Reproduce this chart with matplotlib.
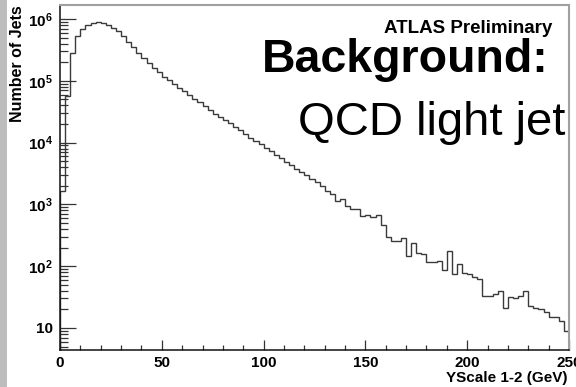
import matplotlib
matplotlib.use("Agg")
import matplotlib.pyplot as plt
import matplotlib.patches as mpatches
import numpy as np

plt.rcParams["font.family"] = ["Liberation Sans", "DejaVu Sans"]
plt.rcParams["mathtext.fontset"] = "custom"
plt.rcParams["mathtext.rm"] = "Liberation Sans"
plt.rcParams["mathtext.bf"] = "Liberation Sans:bold"

# YScale 1-2 distribution, 100 bins of 2.5 GeV from 0 to 250 GeV
bin_edges_gev = np.linspace(0, 250, 101)
jet_counts = [
    1620, 57500, 282000, 537000, 692000, 794000, 871000, 891000, 851000, 794000,
    708000, 631000, 525000, 427000, 347000, 282000, 234000, 195000, 162000, 138000,
    117000, 102000, 89100, 77600, 67600, 58900, 51300, 44700, 38900, 33900,
    29500, 26300, 22900, 20400, 17800, 15800, 13800, 12000, 10700, 9330,
    8320, 7240, 6310, 5620, 4900, 4370, 3800, 3390, 2950, 2570,
    2290, 2000, 1660, 1480, 1120, 1200, 955, 851, 832, 646,
    661, 631, 661, 457, 302, 257, 251, 282, 148, 234,
    166, 158, 117, 117, 123, 87, 174, 74, 107, 78,
    74, 68, 62, 33, 33, 35, 40, 21, 32, 30,
    33, 40, 23, 21, 20, 18, 15, 15, 13, 9,
]

x_ticks = [0, 50, 100, 150, 200, 250]
x_tick_labels = ["0", "50", "100", "150", "200", "250"]
y_ticks = [10, 1e2, 1e3, 1e4, 1e5, 1e6]
y_tick_labels = ["10", r"$\mathbf{10^{2}}$", r"$\mathbf{10^{3}}$",
                 r"$\mathbf{10^{4}}$", r"$\mathbf{10^{5}}$", r"$\mathbf{10^{6}}$"]

W, H = 576, 387
fig = plt.figure(figsize=(W / 100, H / 100), dpi=100)
fig.patch.set_facecolor("white")

# grey strip along the left edge of the canvas
fig.patches.append(mpatches.Rectangle((0, 0), 7 / W, 1, transform=fig.transFigure,
                                      facecolor="#bdbdbd", edgecolor="none", zorder=0))

ax = fig.add_axes([60 / W, 1 - 350 / H, (569 - 60) / W, (350 - 5) / H])
ax.stairs(jet_counts, bin_edges_gev, color="#3a3a3a", lw=1.0)

ax.set_yscale("log")
ax.set_xlim(0, 250)
ax.set_ylim(4.4, 1.685e6)

ax.set_xticks(x_ticks)
ax.set_xticklabels(x_tick_labels, fontsize=11, fontweight="bold")
ax.set_xticks(np.arange(0, 251, 10), minor=True)
ax.set_yticks(y_ticks)
ax.set_yticklabels(y_tick_labels, fontsize=11, fontweight="bold")
minor_y = [m * 10.0 ** d for d in range(0, 7) for m in range(2, 10)]
ax.set_yticks([v for v in minor_y if 4.4 < v < 1.685e6], minor=True)
ax.yaxis.set_minor_formatter(matplotlib.ticker.NullFormatter())

ax.tick_params(axis="y", which="major", direction="in", length=11.5, width=0.9,
               color="#333333", pad=5, right=False)
ax.tick_params(axis="y", which="minor", direction="in", length=6, width=0.9,
               color="#333333", right=False)
ax.tick_params(axis="x", which="major", direction="in", length=7, width=0.9,
               color="#333333", pad=4.5, top=False)
ax.tick_params(axis="x", which="minor", direction="in", length=3.5, width=0.9,
               color="#333333", top=False)

for side in ("left", "bottom"):
    ax.spines[side].set_color("#111111")
    ax.spines[side].set_linewidth(1.1)
for side in ("top", "right"):
    ax.spines[side].set_color("#a0a0a0")
    ax.spines[side].set_linewidth(1.5)

# axis titles
fig.text(567 / W, 1 - 382 / H, "YScale 1-2 (GeV)", ha="right", va="baseline",
         fontsize=11, fontweight="bold")
fig.text(18 / W, 1 - 5 / H, "Number of Jets", rotation=90, ha="center", va="top",
         fontsize=11.5, fontweight="bold")

# labels
fig.text(552 / W, 1 - 33 / H, "ATLAS Preliminary", ha="right", va="baseline",
         fontsize=13.5, fontweight="bold")
fig.text(549 / W, 1 - 72 / H, "Background:", ha="right", va="baseline",
         fontsize=33.5, fontweight="bold")
fig.text(565 / W, 1 - 135 / H, "QCD light jet", ha="right", va="baseline",
         fontsize=34)

fig.savefig("out.png", dpi=100)
